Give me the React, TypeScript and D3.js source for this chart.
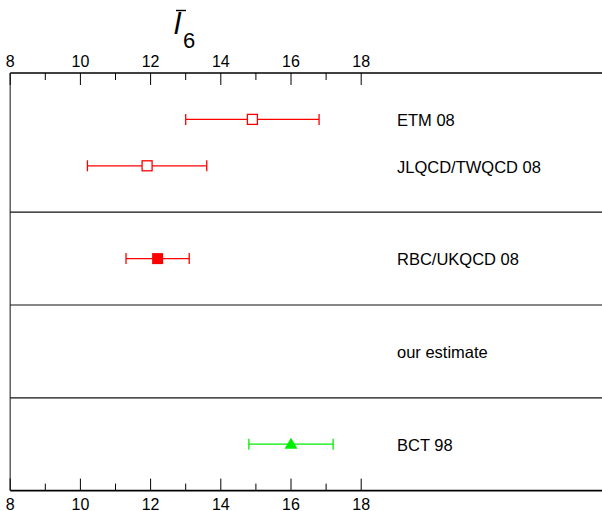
import React from "react";
import * as d3 from "d3";

const labels = ["ETM 08", "JLQCD/TWQCD 08", "RBC/UKQCD 08", "our estimate", "BCT 98"];
const rows = [1, 2, 4, 6, 8];
const centers: (number | null)[] = [14.9, 11.9, 12.2, null, 16.0];
const lows: (number | null)[] = [13.0, 10.2, 11.3, null, 14.8];
const highs: (number | null)[] = [16.8, 13.6, 13.1, null, 17.2];
const markers = ["openSquare", "openSquare", "filledSquare", "none", "triangle"];
const colors = ["#ff0000", "#ff0000", "#ff0000", "#000", "#00ee00"];
const separators = [3, 5, 7];
const majorTicks = [8, 10, 12, 14, 16, 18];
const minorTicks = [9, 11, 13, 15, 17];

export default function App() {
  const W = 602, H = 511;
  const x = d3.scaleLinear().domain([8, 18]).range([10.2, 361.2]);
  const y = d3.scaleLinear().domain([0, 9]).range([73, 490.6]);
  const top = y(0), bot = y(9);
  const font = "'Liberation Sans', Arial, sans-serif";
  return (
    <svg width={W} height={H} style={{ position: "absolute", left: 0, top: 0 }}>
      <rect width={W} height={H} fill="#fff" />
      {/* title */}
      <text x={174} y={34} fontFamily={font} fontSize={30} fontStyle="italic">l</text>
      <line x1={176} x2={186} y1={10.5} y2={10.5} stroke="#000" strokeWidth={1.4} />
      <text x={183} y={47.5} fontFamily={font} fontSize={22}>6</text>
      {/* frame */}
      <line x1={x(8)} x2={W} y1={top} y2={top} stroke="#000" strokeWidth={1.6} />
      <line x1={x(8)} x2={W} y1={bot} y2={bot} stroke="#000" strokeWidth={1.6} />
      <line x1={x(8)} x2={x(8)} y1={top} y2={bot} stroke="#555" strokeWidth={1.4} />
      {separators.map((s) => (
        <line key={s} x1={x(8)} x2={W} y1={y(s)} y2={y(s)} stroke="#111" strokeWidth={1.2} />
      ))}
      {/* ticks */}
      {majorTicks.map((t) => (
        <g key={"M" + t}>
          <line x1={x(t)} x2={x(t)} y1={top} y2={top + 12} stroke="#000" strokeWidth={1} />
          <line x1={x(t)} x2={x(t)} y1={bot} y2={bot - 12} stroke="#000" strokeWidth={1} />
          <text x={x(t)} y={67} textAnchor="middle" fontFamily={font} fontSize={16}>{t}</text>
          <text x={x(t)} y={509.5} textAnchor="middle" fontFamily={font} fontSize={16}>{t}</text>
        </g>
      ))}
      {minorTicks.map((t) => (
        <g key={"m" + t}>
          <line x1={x(t)} x2={x(t)} y1={top} y2={top + 7} stroke="#000" strokeWidth={1} />
          <line x1={x(t)} x2={x(t)} y1={bot} y2={bot - 7} stroke="#000" strokeWidth={1} />
        </g>
      ))}
      {/* data */}
      {labels.map((lab, i) => {
        const cy = y(rows[i]);
        const c = centers[i], lo = lows[i], hi = highs[i];
        const col = colors[i];
        return (
          <g key={lab}>
            {c !== null && lo !== null && hi !== null && (
              <g>
                <line x1={x(lo)} x2={x(hi)} y1={cy} y2={cy} stroke={col} strokeWidth={1.2} />
                <line x1={x(lo)} x2={x(lo)} y1={cy - 5.5} y2={cy + 5.5} stroke={col} strokeWidth={1.3} />
                <line x1={x(hi)} x2={x(hi)} y1={cy - 5.5} y2={cy + 5.5} stroke={col} strokeWidth={1.3} />
                {markers[i] === "openSquare" && (
                  <rect x={x(c) - 5} y={cy - 5} width={10} height={10} fill="#fff" stroke={col} strokeWidth={1.3} />
                )}
                {markers[i] === "filledSquare" && (
                  <rect x={x(c) - 5.5} y={cy - 5.5} width={11} height={11} fill={col} />
                )}
                {markers[i] === "triangle" && (
                  <path d={`M${x(c)},${cy - 6.5}L${x(c) + 6.5},${cy + 4.5}L${x(c) - 6.5},${cy + 4.5}Z`} fill={col} />
                )}
              </g>
            )}
            <text x={397} y={cy + 6.8} fontFamily={font} fontSize={16.5}>{lab}</text>
          </g>
        );
      })}
    </svg>
  );
}
